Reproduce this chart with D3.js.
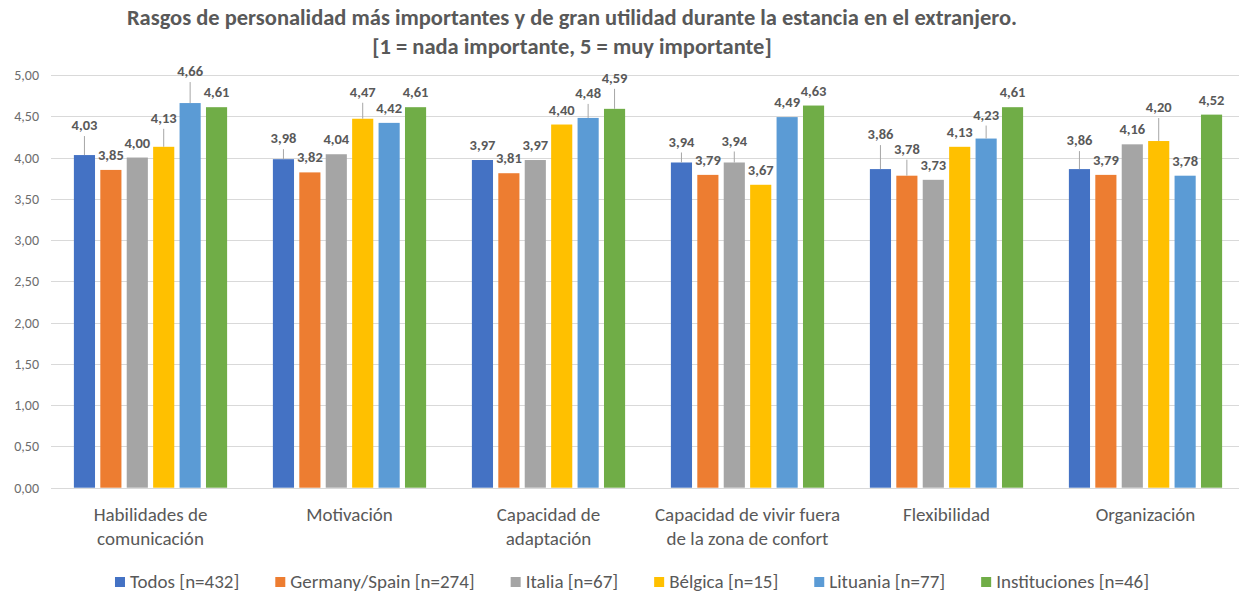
<!DOCTYPE html>
<html>
<head>
<meta charset="utf-8">
<script src="https://cdn.jsdelivr.net/npm/d3@7"></script>
<style>
  html, body { margin: 0; padding: 0; background: #ffffff; }
  svg { display: block; }
  text { font-family: Calibri, Carlito, Lato, "Open Sans", sans-serif; }
</style>
</head>
<body>
<svg id="chart" width="1239" height="594"></svg>
<script>
// ---------- data ----------
const titleLines = [
  "Rasgos de personalidad más importantes y de gran utilidad durante la estancia en el extranjero.",
  "[1 = nada importante, 5 = muy importante]"
];
const categories = [
  ["Habilidades de", "comunicación"],
  ["Motivación"],
  ["Capacidad de", "adaptación"],
  ["Capacidad de vivir fuera", "de la zona de confort"],
  ["Flexibilidad"],
  ["Organización"]
];
const seriesNames = [
  "Todos [n=432]",
  "Germany/Spain [n=274]",
  "Italia [n=67]",
  "Bélgica [n=15]",
  "Lituania [n=77]",
  "Instituciones [n=46]"
];
const todos        = [4.03, 3.98, 3.97, 3.94, 3.86, 3.86];
const germanySpain = [3.85, 3.82, 3.81, 3.79, 3.78, 3.79];
const italia       = [4.00, 4.04, 3.97, 3.94, 3.73, 4.16];
const belgica      = [4.13, 4.47, 4.40, 3.67, 4.13, 4.20];
const lituania     = [4.66, 4.42, 4.48, 4.49, 4.23, 3.78];
const instituciones= [4.61, 4.61, 4.59, 4.63, 4.61, 4.52];
const yTicks = [0, 0.5, 1, 1.5, 2, 2.5, 3, 3.5, 4, 4.5, 5];
// extra lift (px) of data labels moved up with a leader line, per series then category
const labelLift = [
  [15, 6, 0, 6, 20, 14],
  [0, 0, 0, 0, 12, 0],
  [0, 0, 0, 7, 0, 0],
  [14, 12, 0, 0, 0, 19],
  [17, 0, 10, 0, 9, 0],
  [0, 0, 16, 0, 0, 0]
];
const seriesValues = [todos, germanySpain, italia, belgica, lituania, instituciones];
const colors = ["#4472C4", "#ED7D31", "#A5A5A5", "#FFC000", "#5B9BD5", "#70AD47"];

// ---------- drawing ----------
const svg = d3.select("#chart");
const fmt = v => d3.format(".2f")(v).replace(".", ",");
const textColor = "#595959";

const x0 = d3.scaleBand().domain(d3.range(categories.length))
  .range([51, 1245]).paddingInner(0.23).paddingOuter(0.115);
const x1 = d3.scaleBand().domain(d3.range(seriesNames.length))
  .range([0, x0.bandwidth()]).paddingInner(0.2).paddingOuter(0);
const y = d3.scaleLinear().domain([0, 5]).range([487.7, 75]);

// title
svg.append("g").selectAll("text").data(titleLines).join("text")
  .attr("x", 572).attr("y", (d, i) => 25 + i * 29)
  .attr("text-anchor", "middle")
  .attr("font-size", 22.5).attr("font-weight", "bold")
  .attr("fill", textColor)
  .text(d => d);

// gridlines + y axis
const yAxis = d3.axisLeft(y).tickValues(yTicks).tickSize(0).tickPadding(0).tickFormat(fmt);
const gy = svg.append("g").attr("transform", "translate(39,0)").call(yAxis);
gy.select(".domain").remove();
gy.selectAll("text").attr("font-size", 14).attr("fill", "#6d6d6d")
  .style("font-family", "Calibri, Carlito, Lato, sans-serif");

svg.append("g").selectAll("line").data(yTicks).join("line")
  .attr("x1", 51).attr("x2", 1239)
  .attr("y1", d => Math.round(y(d)) + 0.5).attr("y2", d => Math.round(y(d)) + 0.5)
  .attr("stroke", "#d9d9d9").attr("stroke-width", 1);

// bars
const groups = svg.append("g").selectAll("g").data(categories).join("g")
  .attr("transform", (d, i) => `translate(${x0(i)},0)`);

groups.selectAll("rect").data((d, ci) => seriesValues.map((vals, si) => ({ci, si, v: vals[ci]})))
  .join("rect")
  .attr("x", d => x1(d.si)).attr("width", x1.bandwidth())
  .attr("y", d => y(d.v)).attr("height", d => y(0) - y(d.v))
  .attr("fill", d => colors[d.si]);

// leader lines
groups.selectAll("line.leader").data((d, ci) => seriesValues.map((vals, si) => ({ci, si, v: vals[ci], lift: labelLift[si][ci]})).filter(d => d.lift >= 5))
  .join("line").attr("class", "leader")
  .attr("x1", d => x1(d.si) + x1.bandwidth() / 2).attr("x2", d => x1(d.si) + x1.bandwidth() / 2)
  .attr("y1", d => y(d.v) - 15 - d.lift + 11).attr("y2", d => y(d.v))
  .attr("stroke", "#a6a6a6").attr("stroke-width", 1);

// data labels
groups.selectAll("text.lbl").data((d, ci) => seriesValues.map((vals, si) => ({ci, si, v: vals[ci], lift: labelLift[si][ci]})))
  .join("text").attr("class", "lbl")
  .attr("x", d => x1(d.si) + x1.bandwidth() / 2)
  .attr("y", d => y(d.v) - 15 - d.lift)
  .attr("dy", "0.35em")
  .attr("text-anchor", "middle")
  .attr("font-size", 14.5).attr("font-weight", "bold")
  .attr("fill", textColor)
  .text(d => fmt(d.v));

// category labels
groups.append("g").selectAll("text").data(d => d).join("text")
  .attr("x", x0.bandwidth() / 2)
  .attr("y", (d, i) => 521 + i * 24)
  .attr("text-anchor", "middle")
  .attr("font-size", 19)
  .attr("fill", textColor)
  .text(d => d);

// legend
const legend = svg.append("g");
const items = legend.selectAll("g").data(seriesNames).join("g");
items.append("rect").attr("width", 10).attr("height", 10).attr("y", -11)
  .attr("fill", (d, i) => colors[i]);
items.append("text").attr("x", 15).attr("font-size", 19).attr("fill", textColor).text(d => d);
let cx = 0;
const gap = 36;
items.each(function () {
  const w = d3.select(this).select("text").node().getComputedTextLength();
  d3.select(this).attr("transform", `translate(${cx},0)`);
  cx += 15 + w + gap;
});
const total = cx - gap;
legend.attr("transform", `translate(${632 - total / 2},588)`);
</script>
</body>
</html>
